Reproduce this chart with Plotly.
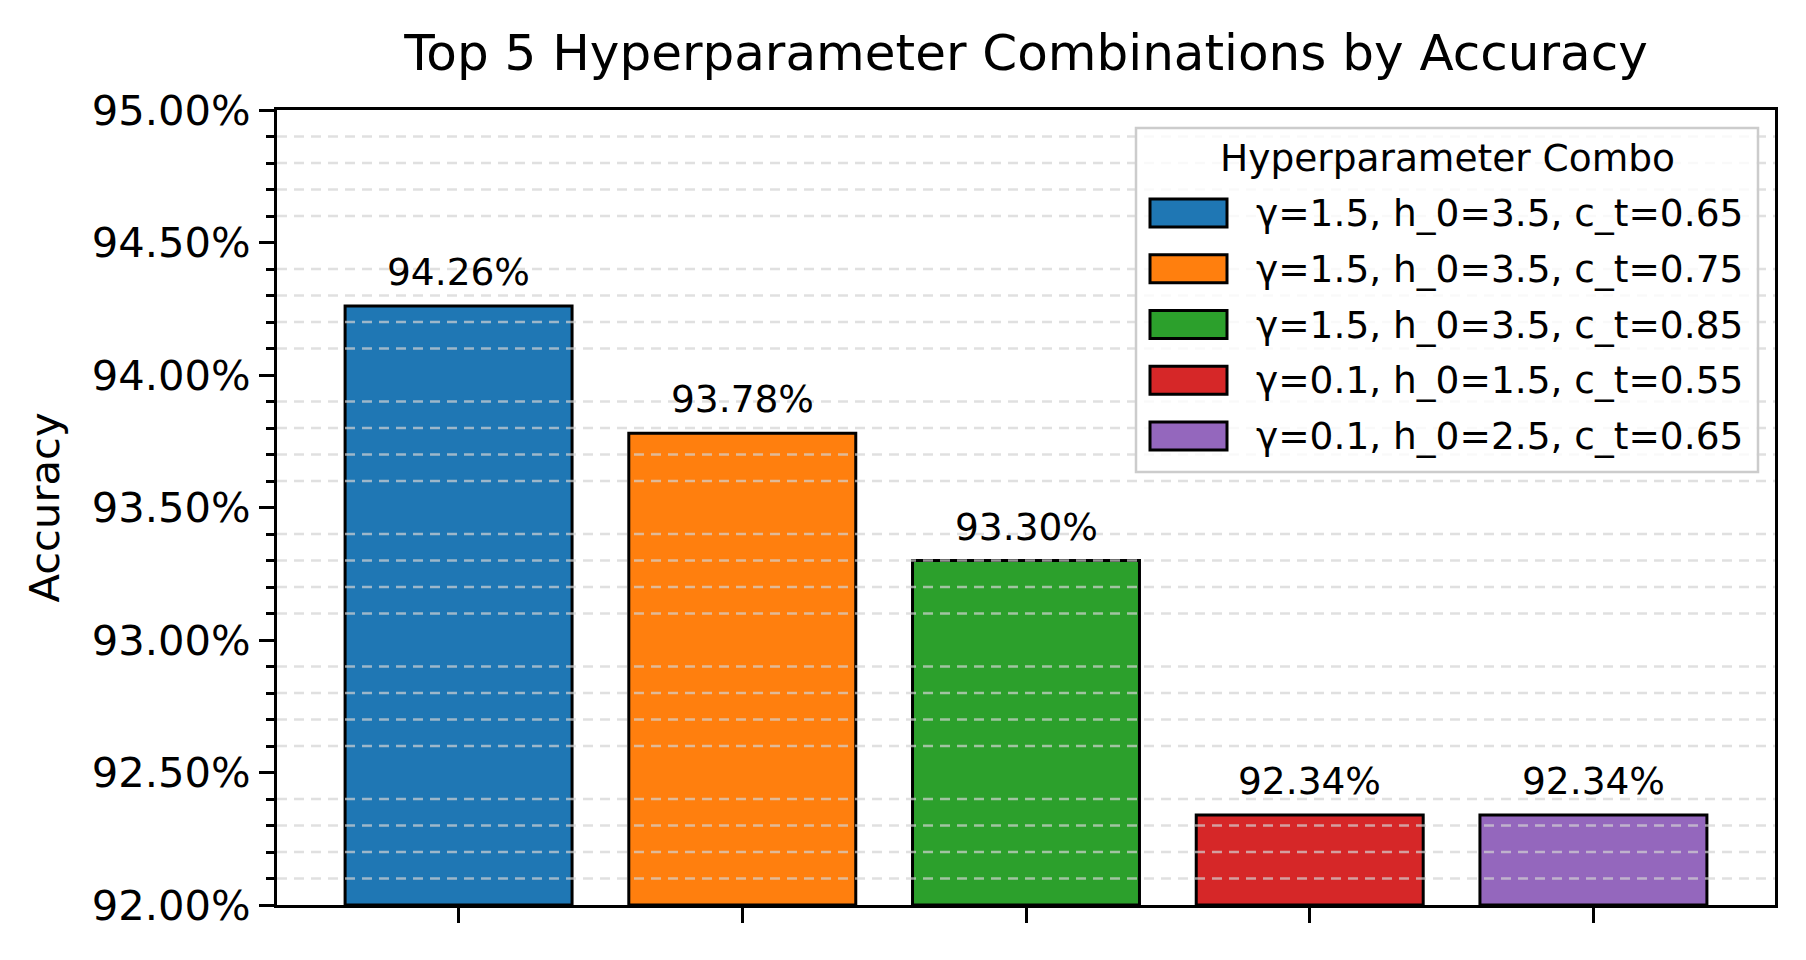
import plotly.graph_objects as go

# ---- data ----
combos = [
    "γ=1.5, h_0=3.5, c_t=0.65",
    "γ=1.5, h_0=3.5, c_t=0.75",
    "γ=1.5, h_0=3.5, c_t=0.85",
    "γ=0.1, h_0=1.5, c_t=0.55",
    "γ=0.1, h_0=2.5, c_t=0.65",
]
accuracy = [94.26, 93.78, 93.30, 92.34, 92.34]
colors = ["#1f77b4", "#ff7f0e", "#2ca02c", "#d62728", "#9467bd"]
y_range = [92.0, 95.0]
y_major = 0.5
y_minor = 0.1
legend_title = "Hyperparameter Combo"

FONT = "DejaVu Sans"
OFF = 8  # default page body margin
W, H = 1806 - OFF, 960 - OFF
# plot area in page pixels
PX0, PX1, PY0, PY1 = 277, 1775, 110, 905
L, R, T, B = PX0 - OFF, (W + OFF) - PX1, PY0 - OFF, (H + OFF) - PY1


def px(x):
    return (x - PX0) / (PX1 - PX0)


def py(y):
    return (PY1 - y) / (PY1 - PY0)


fig = go.Figure()
for i, (name, v, c) in enumerate(zip(combos, accuracy, colors)):
    fig.add_trace(go.Bar(
        x=[i], y=[v - y_range[0]], base=y_range[0], name=name, width=0.8,
        marker=dict(color=c, line=dict(color="black", width=3)),
        hoverinfo="skip", showlegend=False,
    ))
    fig.add_annotation(
        x=i, y=v, text=f"{v:.2f}%", showarrow=False, yanchor="bottom",
        yshift=10, font=dict(family=FONT, size=37.5, color="black"),
    )

# dashed grid at minor ticks, drawn above the bars
n_minor = int(round((y_range[1] - y_range[0]) / y_minor))
step_ratio = int(round(y_major / y_minor))
for k in range(1, n_minor):
    if k % step_ratio == 0:
        continue
    yv = y_range[0] + k * y_minor
    fig.add_shape(type="line", xref="paper", x0=0, x1=1, yref="y", y0=yv, y1=yv,
                  layer="above", line=dict(color="rgba(211,211,211,0.7)", width=2.3, dash="10px,7px"))

# legend (matplotlib style: wide patches)
LB_X0, LB_X1, LB_Y0, LB_Y1 = 1136, 1758, 128, 472
fig.add_shape(type="rect", xref="paper", yref="paper",
              x0=px(LB_X0), x1=px(LB_X1), y0=py(LB_Y1), y1=py(LB_Y0),
              layer="above", fillcolor="rgba(255,255,255,0.8)",
              line=dict(color="#cccccc", width=2.5))
fig.add_annotation(xref="paper", yref="paper", x=px((LB_X0 + LB_X1) / 2), y=py(158),
                   xanchor="center", yanchor="middle", showarrow=False, text=legend_title,
                   font=dict(family=FONT, size=37.5, color="black"))
row0, row_step = 213, 55.75
for j, (name, c) in enumerate(zip(combos, colors)):
    cy = row0 + j * row_step
    fig.add_shape(type="rect", xref="paper", yref="paper",
                  x0=px(1150), x1=px(1227), y0=py(cy + 14), y1=py(cy - 14),
                  layer="above", fillcolor=c, line=dict(color="black", width=3))
    fig.add_annotation(xref="paper", yref="paper", x=px(1254), y=py(cy),
                       xanchor="left", yanchor="middle", showarrow=False, text=name,
                       font=dict(family=FONT, size=37.5, color="black"))

fig.update_layout(
    width=W, height=H,
    margin=dict(l=L, r=R, t=T, b=B, pad=0),
    paper_bgcolor="white", plot_bgcolor="white",
    barmode="overlay",
    font=dict(family=FONT, color="black"),
    title=dict(text="Top 5 Hyperparameter Combinations by Accuracy",
               x=0.5, xanchor="center", xref="paper",
               y=1 - (52 - OFF) / H, yref="container", yanchor="middle",
               font=dict(family=FONT, size=50, color="black")),
    showlegend=False,
)
fig.update_xaxes(
    range=[-0.64, 4.64], tickmode="array", tickvals=list(range(len(combos))),
    showticklabels=False, ticks="outside", ticklen=15, tickwidth=3, tickcolor="black",
    showline=True, linecolor="black", linewidth=3, mirror=True,
    showgrid=False, zeroline=False,
)
fig.update_yaxes(
    range=y_range, dtick=y_major, tick0=y_range[0], tickformat=".2f", ticksuffix="%",
    ticks="outside", ticklen=15, tickwidth=3, tickcolor="black",
    tickfont=dict(family=FONT, size=41.67, color="black"),
    minor=dict(dtick=y_minor, ticks="outside", ticklen=8, tickwidth=2.5, tickcolor="black", showgrid=False),
    showline=True, linecolor="black", linewidth=3, mirror=True,
    showgrid=False, zeroline=False,
    title=dict(text="Accuracy", standoff=20, font=dict(family=FONT, size=41.67, color="black")),
)

fig.write_html("out.html")
